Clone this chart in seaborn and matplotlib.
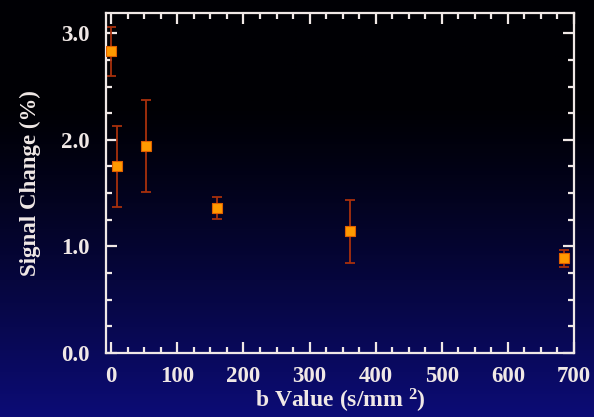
import numpy as np
import pandas as pd
import matplotlib
matplotlib.use("Agg")
import matplotlib.pyplot as plt
import seaborn as sns
from matplotlib.ticker import MultipleLocator

# Data
b_values = [0, 8, 52, 160, 361, 685]
signal_change = [2.83, 1.75, 1.94, 1.36, 1.14, 0.89]
signal_err = [0.23, 0.38, 0.43, 0.10, 0.30, 0.08]
x_ticks = [0, 100, 200, 300, 400, 500, 600, 700]
y_ticks = [0.0, 1.0, 2.0, 3.0]

df = pd.DataFrame({"b": b_values, "sig": signal_change, "err": signal_err})

sns.set_style("ticks")
plt.rcParams["font.family"] = ["Liberation Serif", "DejaVu Serif"]
plt.rcParams["font.weight"] = "bold"
plt.rcParams["mathtext.fontset"] = "custom"
plt.rcParams["mathtext.rm"] = "Liberation Serif:bold"
plt.rcParams["mathtext.bf"] = "Liberation Serif:bold"
plt.rcParams["mathtext.default"] = "bf"

W, H = 594, 417
fig = plt.figure(figsize=(W / 100, H / 100), dpi=100)

# background gradient (black at top to deep blue at bottom)
bg = fig.add_axes([0, 0, 1, 1], zorder=-10)
t = np.linspace(0, 1, 256)[:, None]
w = np.clip((t - 0.25) / 0.75, 0, 1) ** 1.2
top = np.array([0, 0, 4]) / 255
bot = np.array([12, 12, 118]) / 255
grad = top[None, None, :] * (1 - w[..., None]) + bot[None, None, :] * w[..., None]
grad = np.repeat(grad, 2, axis=1)
bg.imshow(grad, aspect="auto", extent=[0, 1, 0, 1], origin="upper")
bg.axis("off")

fg = "#f0e8e6"
ax = fig.add_axes([106 / W, 1 - 353 / H, (574 - 106) / W, (353 - 13) / H])
ax.set_facecolor("none")

ax.errorbar(df["b"], df["sig"], yerr=df["err"], fmt="none", ecolor="#a8300c",
            elinewidth=1.3, capsize=3.5, capthick=1.3, zorder=2)
sns.scatterplot(data=df, x="b", y="sig", marker="s", s=48, color="#ff9a00",
                edgecolor="#e06000", linewidth=0.8, ax=ax, zorder=3, legend=False)

ax.set_xlim(-8, 700)
ax.set_ylim(0, 3.19)
ax.set_xticks(x_ticks)
ax.set_yticks(y_ticks)
ax.set_xticklabels([str(v) for v in x_ticks])
ax.set_yticklabels([f"{v:.1f}" for v in y_ticks])
ax.xaxis.set_minor_locator(MultipleLocator(25))
ax.yaxis.set_minor_locator(MultipleLocator(0.25))

for s in ax.spines.values():
    s.set_visible(True)
    s.set_color(fg)
    s.set_linewidth(1.6)

ax.tick_params(which="both", direction="in", top=True, right=True, colors=fg,
               labelcolor=fg, labelsize=16.5, width=1.6)
ax.tick_params(which="major", length=8)
ax.tick_params(axis="y", which="major", pad=12)
ax.tick_params(axis="x", which="major", pad=9)
ax.tick_params(which="minor", length=4.5)

ax.set_xlabel("b Value (s/mm $^{2}$)", color=fg, fontsize=17, fontweight="bold", labelpad=0)
ax.set_ylabel("Signal Change (%)", color=fg, fontsize=16.5, fontweight="bold", labelpad=14)

fig.savefig("out.png", dpi=100)
